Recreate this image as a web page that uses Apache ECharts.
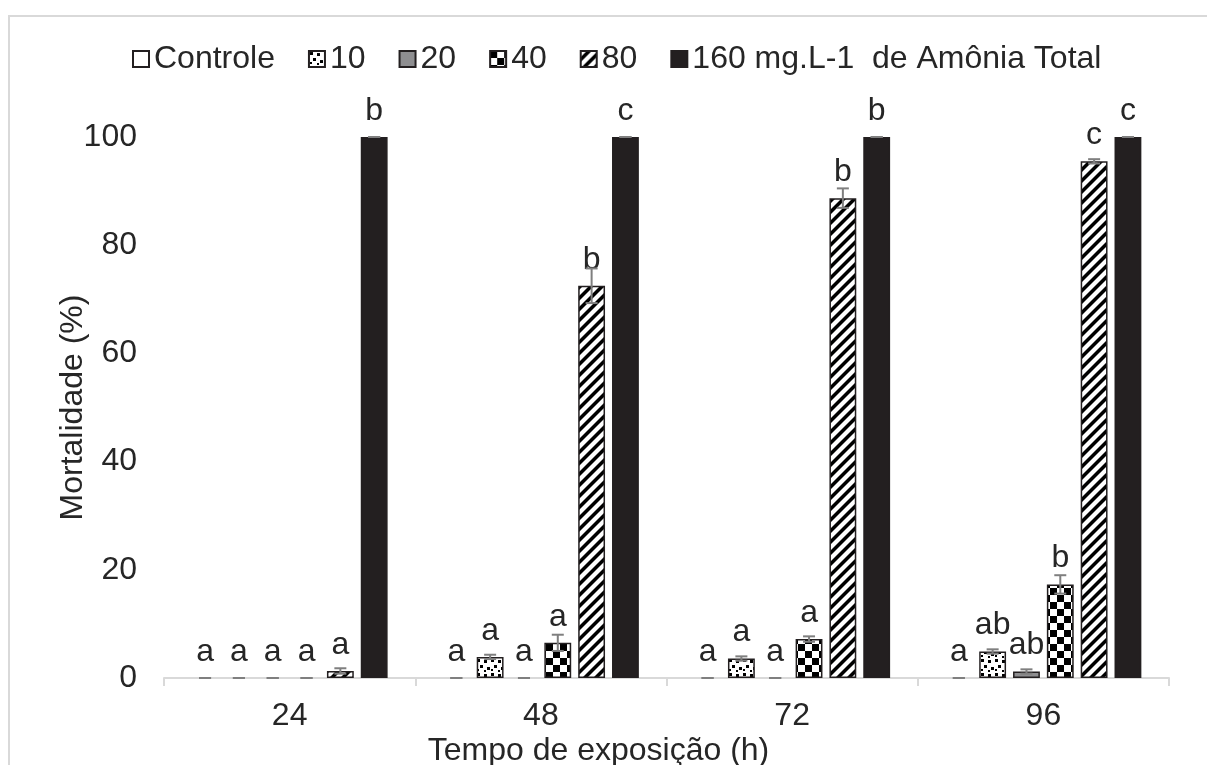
<!DOCTYPE html>
<html>
<head>
<meta charset="utf-8">
<script src="https://cdn.jsdelivr.net/npm/echarts@6/dist/echarts.min.js"></script>
<style>
  html, body { margin: 0; padding: 0; background: #fff; }
  #main { width: 1207px; height: 765px; }
</style>
</head>
<body>
<div id="main"></div>
<script>
// dados
var categorias = ['24', '48', '72', '96']
var seriesNomes = ['Controle', '10', '20', '40', '80', '160 mg.L-1  de Amônia Total']

var controle = [0, 0, 0, 0]
var c10 = [0, 3.9, 3.6, 4.9]
var c20 = [0, 0, 0, 1.2]
var c40 = [0, 6.5, 7.2, 17.3]
var c80 = [1.3, 72.5, 88.7, 95.5]
var c160 = [100, 100, 100, 100]

// desvio (barras de erro)
var errControle = [0, 0, 0, 0]
var err10 = [0, 0.4, 0.4, 0.4]
var err20 = [0, 0, 0, 0.4]
var err40 = [0, 1.5, 0.5, 1.7]
var err80 = [0.5, 3.2, 1.8, 0.4]
var err160 = [0, 0, 0, 0]

// letras de significância
var letrasControle = ['a', 'a', 'a', 'a']
var letras10 = ['a', 'a', 'a', 'ab']
var letras20 = ['a', 'a', 'a', 'ab']
var letras40 = ['a', 'a', 'a', 'b']
var letras80 = ['a', 'b', 'b', 'c']
var letras160 = ['b', 'c', 'b', 'c']

var valores = [controle, c10, c20, c40, c80, c160]
var erros = [errControle, err10, err20, err40, err80, err160]
var letras = [letrasControle, letras10, letras20, letras40, letras80, letras160]

var textCor = '#262626'
var fonte = 'Liberation Sans, Arial, sans-serif'
var tam = 32

// padrões de preenchimento
function tile(w, h, draw) {
  var c = document.createElement('canvas')
  c.width = w
  c.height = h
  var ctx = c.getContext('2d')
  ctx.fillStyle = '#fff'
  ctx.fillRect(0, 0, w, h)
  ctx.fillStyle = '#000'
  draw(ctx)
  return c
}
var confete = tile(14, 14, function(ctx) {
  ctx.fillRect(1, 1, 3, 3)
  ctx.fillRect(8, 2, 3, 3)
  ctx.fillRect(4, 7, 3, 3)
  ctx.fillRect(11, 9, 3, 3)
  ctx.fillRect(1, 11, 2, 2)
  ctx.fillRect(8, 12, 2, 2)
})
var xadrez = tile(14, 14, function(ctx) {
  ctx.fillRect(0, 0, 7, 7)
  ctx.fillRect(7, 7, 7, 7)
})
var listras = tile(11, 11, function(ctx) {
  ctx.beginPath()
  ctx.moveTo(0, 11); ctx.lineTo(0, 6); ctx.lineTo(6, 0); ctx.lineTo(11, 0)
  ctx.closePath()
  ctx.fill()
  ctx.beginPath()
  ctx.moveTo(6, 11); ctx.lineTo(11, 6); ctx.lineTo(11, 11)
  ctx.closePath()
  ctx.fill()
})

var cores = [
  '#ffffff',
  { image: confete, repeat: 'repeat' },
  '#8e8e90',
  { image: xadrez, repeat: 'repeat' },
  { image: listras, repeat: 'repeat' },
  '#231f20'
]

var chart = echarts.init(document.getElementById('main'))

var series = seriesNomes.map(function(nome, i) {
  return {
    name: nome,
    type: 'bar',
    barGap: '26%',
    barCategoryGap: '22%',
    itemStyle: {
      color: cores[i],
      borderColor: '#231f20',
      borderWidth: 1.5
    },
    label: {
      show: true,
      position: 'top',
      distance: 10,
      fontSize: tam,
      fontFamily: fonte,
      color: textCor,
      formatter: function(p) {
        return letras[i][p.dataIndex]
      }
    },
    data: valores[i].map(function(v) {
      return v === 0 ? { value: v, itemStyle: { borderWidth: 0 } } : v
    })
  }
})

// barras de erro (custom)
var errData = []
valores.forEach(function(vals, i) {
  vals.forEach(function(v, j) {
    errData.push([j, v, erros[i][j], i])
  })
})
series.push({
  type: 'custom',
  name: 'erro',
  z: 5,
  silent: true,
  renderItem: function(params, api) {
    var cat = api.value(0)
    var v = api.value(1)
    var e = api.value(2)
    var k = api.value(3)
    var banda = api.size([1, 0])[0]
    var larg = banda * 0.78 / (6 + 5 * 0.26)
    var passo = larg * 1.26
    var x = api.coord([cat, 0])[0] + (k - 2.5) * passo
    var yHi = api.coord([cat, v + e])[1]
    var yLo = api.coord([cat, Math.max(v - e, 0)])[1]
    var cap = 6
    var st = { stroke: '#7f7f7f', lineWidth: 2 }
    return {
      type: 'group',
      children: [
        { type: 'line', shape: { x1: x, y1: yHi, x2: x, y2: yLo }, style: st },
        { type: 'line', shape: { x1: x - cap, y1: yHi, x2: x + cap, y2: yHi }, style: st },
        { type: 'line', shape: { x1: x - cap, y1: yLo, x2: x + cap, y2: yLo }, style: st }
      ]
    }
  },
  encode: { x: 0, y: 1 },
  data: errData
})

chart.setOption({
  animation: false,
  backgroundColor: '#fff',
  textStyle: { fontFamily: fonte },
  graphic: [{
    type: 'rect',
    shape: { x: 9, y: 16, width: 1230, height: 800 },
    style: { fill: 'none', stroke: '#d9d9d9', lineWidth: 2 },
    silent: true
  }],
  legend: {
    data: seriesNomes,
    left: 127,
    top: 38,
    icon: 'rect',
    itemWidth: 16,
    itemHeight: 16,
    itemGap: 33,
    textStyle: { fontSize: tam, color: textCor, fontFamily: fonte }
  },
  grid: {
    left: 164,
    right: 38,
    top: 137,
    bottom: 87,
    outerBoundsMode: 'none'
  },
  xAxis: {
    type: 'category',
    data: categorias,
    name: 'Tempo de exposição (h)',
    nameLocation: 'middle',
    nameGap: 57,
    nameMoveOverlap: false,
    nameTextStyle: { fontSize: tam, color: textCor, padding: [0, 136, 0, 0] },
    axisLine: { lineStyle: { color: '#d9d9d9', width: 2 } },
    axisTick: { show: true, length: 8, lineStyle: { color: '#d9d9d9', width: 2 } },
    axisLabel: { fontSize: tam, color: textCor, margin: 22 }
  },
  yAxis: {
    type: 'value',
    min: 0,
    max: 100,
    interval: 20,
    name: 'Mortalidade (%)',
    nameLocation: 'middle',
    nameGap: 75,
    nameMoveOverlap: false,
    nameTextStyle: { fontSize: tam, color: textCor },
    axisLine: { show: false },
    axisTick: { show: false },
    splitLine: { show: false },
    axisLabel: { fontSize: tam, color: textCor, margin: 27 }
  },
  series: series
})
</script>
</body>
</html>
